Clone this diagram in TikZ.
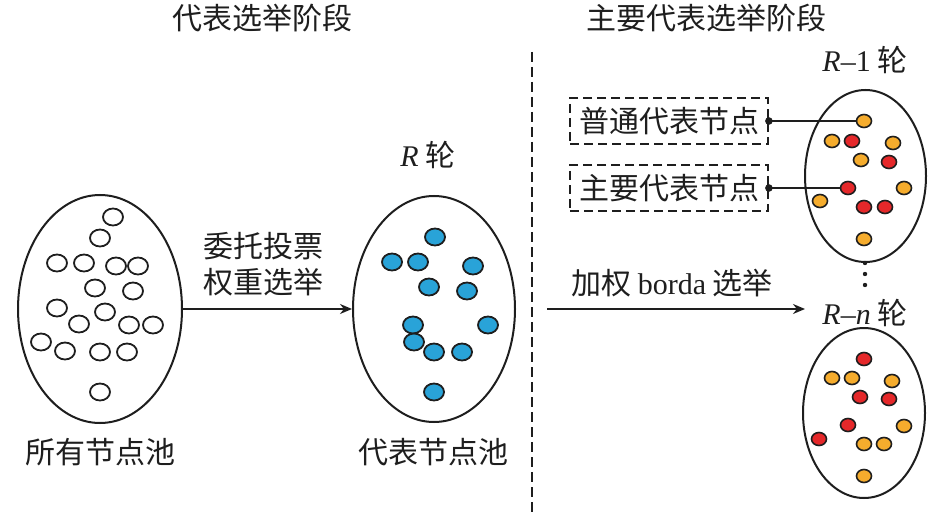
\documentclass[tikz,border=0pt]{standalone}
\usepackage{fontspec}
\setmainfont{Liberation Serif}
\newfontfamily\cjk{Noto Sans CJK SC}
\newfontfamily\lat{Liberation Serif}
\usetikzlibrary{shapes.geometric,arrows.meta}
\definecolor{dotblue}{RGB}{41,163,216}
\definecolor{dotorange}{RGB}{245,172,45}
\definecolor{dotred}{RGB}{229,40,42}
\definecolor{ink}{RGB}{30,30,30}
\tikzset{
  lbl/.style={font=\cjk\fontsize{30}{36}\selectfont, inner sep=0pt, text=ink, align=center},
  pool/.style={ellipse, draw=ink, line width=2pt, inner sep=0pt},
  bigdot/.style={ellipse, draw=ink, line width=1.8pt, minimum width=20pt, minimum height=17pt, inner sep=0pt},
  wdot/.style={bigdot, fill=white},
  bdot/.style={bigdot, fill=dotblue},
  smalldot/.style={ellipse, draw=ink, line width=1.6pt, minimum width=15pt, minimum height=13pt, inner sep=0pt},
  odot/.style={smalldot, fill=dotorange},
  rdot/.style={smalldot, fill=dotred},
  dbox/.style={draw=ink, dashed, dash pattern=on 9pt off 5pt, line width=1.8pt, minimum width=198pt, minimum height=46pt, inner sep=0pt, font=\cjk\fontsize{30}{36}\selectfont, text=ink},
  arr/.style={draw=ink, line width=1.8pt, -{Stealth[length=12pt,width=10pt]}},
  conn/.style={draw=ink, line width=1.6pt},
}
\begin{document}
\begin{tikzpicture}[x=1pt,y=-1pt]
\useasboundingbox (0,0) rectangle (945,516);

% titles
\node[lbl] (t1) at (262,18) {代表选举阶段};
\node[lbl] (t2) at (706,18) {主要代表选举阶段};

% divider
\coordinate (v1) at (532,52);
\coordinate (v2) at (532,516);
\draw[ink, line width=2.2pt, dash pattern=on 10pt off 5pt] (v1) -- (v2);

% left pool
\node[pool, minimum width=164pt, minimum height=228pt] (P1) at (100,309) {};
\foreach \x/\y [count=\i] in {113/217,100/238,57/263,84/263,116/266,138/266,95/288,133/291,57/308,105/312,79/324,129/325,153/325,41/342,65/351,100/352,127/352,100/392}
  \node[wdot] (w\i) at (\x,\y) {};
\node[lbl] (L1) at (100,452) {所有节点池};

% middle pool
\node[pool, minimum width=162pt, minimum height=226pt] (P2) at (434,309) {};
\foreach \x/\y [count=\i] in {435/237,392/262,418/262,473/266,429/287,467/291,413/325,488/325,414/342,434/352,462/352,434/392}
  \node[bdot] (b\i) at (\x,\y) {};
\node[lbl] (L2) at (433,452) {代表节点池};
\node[lbl] (R0) at (428,155) {{\lat\itshape R} 轮};

% arrow 1
\draw[arr] (P1.east) -- (P2.west);
\node[lbl] (A1) at (263,264.5) {委托投票\\[0pt]权重选举};

% right top pool
\node[pool, minimum width=121pt, minimum height=172pt] (P3) at (865.5,176) {};
\node[lbl] (R1) at (865,60) {{\lat\itshape R}{\lat –1} 轮};
\node[odot] (o1) at (864,121) {};
\node[odot] (o2) at (832,141) {};
\node[rdot] (r3) at (852,141) {};
\node[odot] (o4) at (893,143) {};
\node[odot] (o5) at (861,160) {};
\node[rdot] (r6) at (889,162) {};
\node[rdot] (r7) at (848,188) {};
\node[odot] (o8) at (904,188) {};
\node[odot] (o9) at (820,201) {};
\node[rdot] (r10) at (864,207) {};
\node[rdot] (r11) at (885,207) {};
\node[odot] (o12) at (864,239) {};

% dashed boxes
\node[dbox] (B1) at (669,121) {普通代表节点};
\node[dbox] (B2) at (669,188) {主要代表节点};
\draw[conn] (B1.east) -- (o1.west);
\draw[conn] (B2.east) -- (r7.west);
\fill[ink] (B1.east) circle (3.8pt);
\fill[ink] (B2.east) circle (3.8pt);

% vertical dots
\fill[ink] (865,263) circle (2.2pt);
\fill[ink] (865,274) circle (2.2pt);
\fill[ink] (865,285) circle (2.2pt);

% arrow 2
\coordinate (s3) at (547,309);
\coordinate (e3) at (805,309);
\draw[arr] (s3) -- (e3);
\node[lbl] (A2) at (672,283) {加权 {\lat borda} 选举};
\node[lbl] (Rn) at (865,313) {{\lat\itshape R}{\lat –}{\lat\itshape n} 轮};

% right bottom pool
\node[pool, minimum width=122pt, minimum height=170pt] (P4) at (864,413) {};
\node[rdot] (q1) at (864,359) {};
\node[odot] (q2) at (832,378) {};
\node[odot] (q3) at (852,378) {};
\node[odot] (q4) at (892,381) {};
\node[rdot] (q5) at (860,397) {};
\node[rdot] (q6) at (889,399) {};
\node[rdot] (q7) at (848,425) {};
\node[odot] (q8) at (904,426) {};
\node[rdot] (q9) at (819,439) {};
\node[odot] (q10) at (864,444) {};
\node[odot] (q11) at (884,444) {};
\node[odot] (q12) at (864,476) {};
\end{tikzpicture}
\end{document}
